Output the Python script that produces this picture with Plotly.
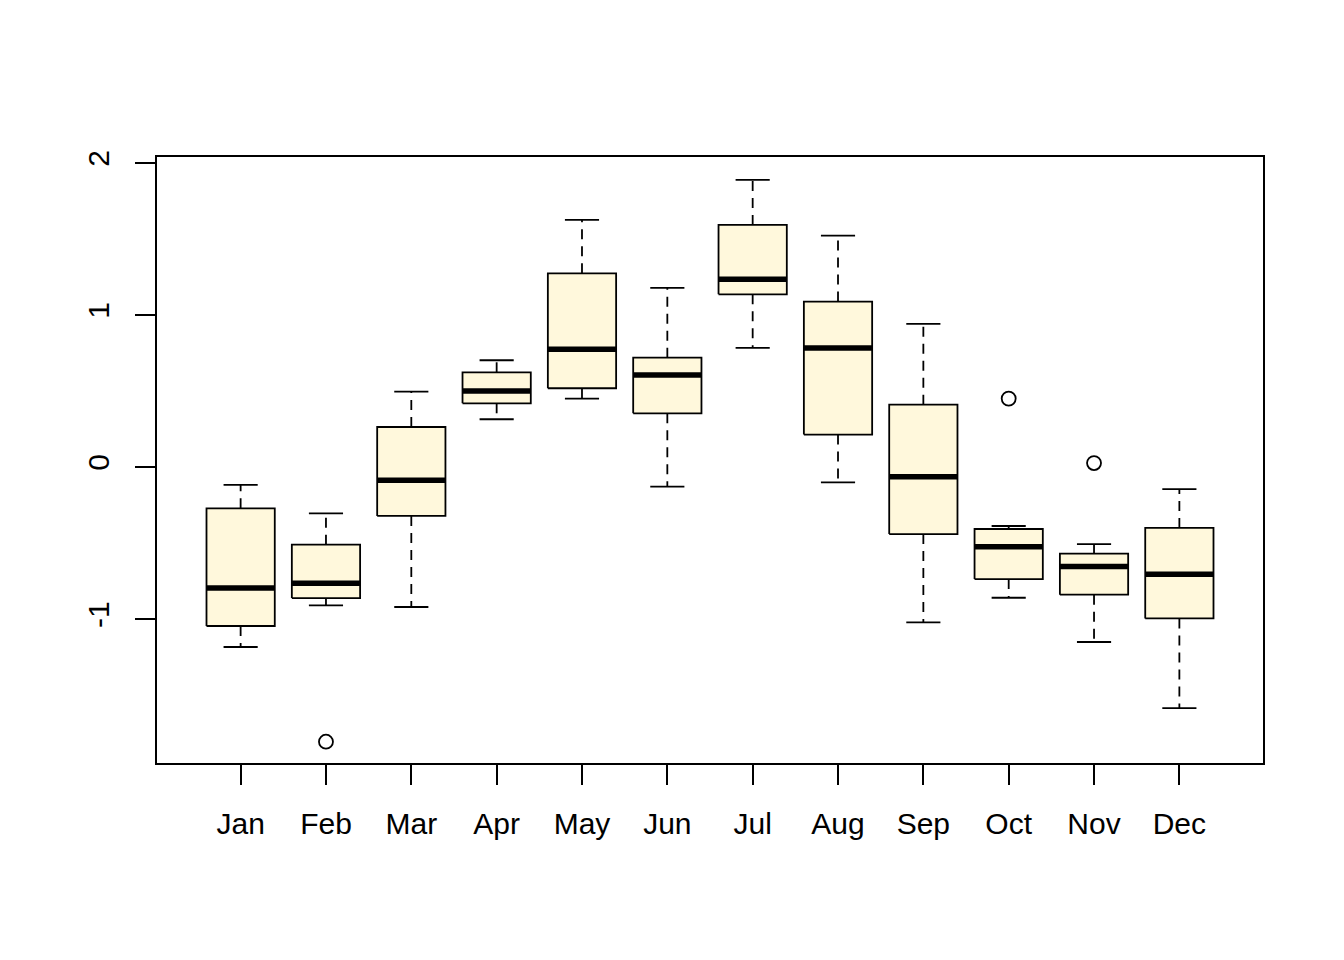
import plotly.graph_objects as go

months = ["Jan", "Feb", "Mar", "Apr", "May", "Jun", "Jul", "Aug", "Sep", "Oct", "Nov", "Dec"]
lower_whisker = [-1.184, -0.910, -0.921, 0.314, 0.450, -0.129, 0.783, -0.101, -1.022, -0.860, -1.151, -1.586]
q1 = [-1.046, -0.862, -0.322, 0.419, 0.518, 0.353, 1.136, 0.213, -0.441, -0.737, -0.840, -0.996]
median = [-0.796, -0.765, -0.088, 0.500, 0.774, 0.605, 1.235, 0.783, -0.064, -0.524, -0.654, -0.706]
q3 = [-0.272, -0.511, 0.263, 0.623, 1.274, 0.719, 1.592, 1.088, 0.410, -0.408, -0.570, -0.401]
upper_whisker = [-0.118, -0.305, 0.496, 0.702, 1.625, 1.178, 1.888, 1.522, 0.941, -0.388, -0.507, -0.145]
outlier_month = ["Feb", "Oct", "Nov"]
outlier_value = [-1.807, 0.450, 0.026]

ytick_vals = [-1, 0, 1, 2]
ytick_text = ["-1", "0", "1", "2"]

BOX_HALF = 0.4
CAP_HALF = 0.2
FILL = "#FFF8DC"

pos = list(range(1, len(months) + 1))
mpos = {m: p for m, p in zip(months, pos)}

bx, by = [], []
mx, my = [], []
wx, wy = [], []
cx, cy = [], []
for p, lo, a, md, b, hi in zip(pos, lower_whisker, q1, median, q3, upper_whisker):
    bx += [p - BOX_HALF, p + BOX_HALF, p + BOX_HALF, p - BOX_HALF, p - BOX_HALF, None]
    by += [a, a, b, b, a, None]
    mx += [p - BOX_HALF, p + BOX_HALF, None]
    my += [md, md, None]
    wx += [p, p, None, p, p, None]
    wy += [b, hi, None, a, lo, None]
    cx += [p - CAP_HALF, p + CAP_HALF, None, p - CAP_HALF, p + CAP_HALF, None]
    cy += [hi, hi, None, lo, lo, None]

fig = go.Figure()
fig.add_trace(go.Scatter(x=wx, y=wy, mode="lines",
                         line=dict(color="black", width=1.8, dash="10px,7px"),
                         hoverinfo="skip", showlegend=False))
fig.add_trace(go.Scatter(x=cx, y=cy, mode="lines",
                         line=dict(color="black", width=1.8),
                         hoverinfo="skip", showlegend=False))
fig.add_trace(go.Scatter(x=bx, y=by, mode="lines", fill="toself", fillcolor=FILL,
                         line=dict(color="black", width=1.8),
                         hoverinfo="skip", showlegend=False))
fig.add_trace(go.Scatter(x=mx, y=my, mode="lines",
                         line=dict(color="black", width=5.5),
                         hoverinfo="skip", showlegend=False))
fig.add_trace(go.Scatter(x=[mpos[m] for m in outlier_month], y=outlier_value, mode="markers",
                         marker=dict(symbol="circle-open", size=14, color="black",
                                     line=dict(width=1.8, color="black")),
                         hoverinfo="skip", showlegend=False))

font = dict(family="Liberation Sans, Arial, Helvetica, sans-serif", size=30, color="black")

fig.update_layout(
    width=1336, height=952,
    margin=dict(l=149, r=81, t=149, b=197),
    paper_bgcolor="white", plot_bgcolor="white",
    font=font,
    showlegend=False,
)
fig.update_xaxes(
    range=[0.02, 12.98], tickmode="array", tickvals=pos, ticktext=months,
    showgrid=False, zeroline=False,
    showline=True, mirror=True, linecolor="black", linewidth=1.6,
    ticks="outside", ticklen=20, tickwidth=1.6, tickcolor="black",
    ticklabelstandoff=13, tickfont=font,
)
fig.update_yaxes(
    range=[-1.947, 2.039], tickmode="array", tickvals=ytick_vals, ticktext=ytick_text,
    tickangle=-90,
    showgrid=False, zeroline=False,
    showline=True, mirror=True, linecolor="black", linewidth=1.6,
    ticks="outside", ticklen=20, tickwidth=1.6, tickcolor="black",
    ticklabelstandoff=14, tickfont=font,
)

fig.write_html("out.html")
